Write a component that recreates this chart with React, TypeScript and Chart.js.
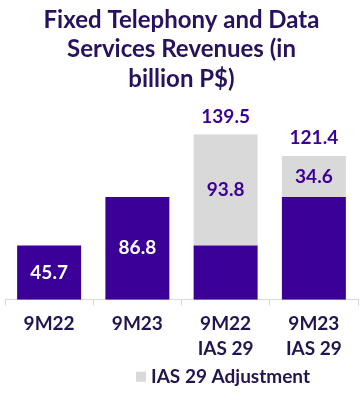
import React, { useEffect, useRef } from "react";
import { Chart, registerables } from "chart.js";

Chart.register(...registerables);

const categories: string[][] = [["9M22"], ["9M23"], ["9M22", "IAS 29"], ["9M23", "IAS 29"]];
const baseValues: number[] = [45.7, 86.8, 45.7, 86.8];
const adjustmentValues: (number | null)[] = [null, null, 93.8, 34.6];
const totalValues: (number | null)[] = [null, null, 139.5, 121.4];
const titleLines: string[] = ["Fixed Telephony and Data", "Services Revenues (in", "billion P$)"];
const legendLabel = "IAS 29 Adjustment";

const PURPLE = "#3B0097";
const GRAY = "#D9D9D9";
const TITLE_COLOR = "#28125F";
const TEXT_COLOR = "#221552";
const FONT = "Lato, 'Open Sans', sans-serif";

const labelsPlugin = {
  id: "valueLabels",
  afterDatasetsDraw(chart: any) {
    const ctx = chart.ctx;
    ctx.save();
    ctx.font = `bold 19px ${FONT}`;
    ctx.textAlign = "center";
    ctx.textBaseline = "middle";
    const baseMeta = chart.getDatasetMeta(0);
    const adjMeta = chart.getDatasetMeta(1);
    baseMeta.data.forEach((bar: any, i: number) => {
      if (adjustmentValues[i] == null) {
        ctx.fillStyle = "#FFFFFF";
        ctx.fillText(baseValues[i].toFixed(1), bar.x, (bar.y + bar.base) / 2);
      }
    });
    adjMeta.data.forEach((bar: any, i: number) => {
      const v = adjustmentValues[i];
      if (v != null) {
        ctx.fillStyle = PURPLE;
        ctx.fillText(v.toFixed(1), bar.x, (bar.y + bar.base) / 2);
        const t = totalValues[i];
        if (t != null) {
          ctx.fillText(t.toFixed(1), bar.x, bar.y - 18);
        }
      }
    });
    // legend
    const ca = chart.chartArea;
    const ly = ca.bottom + 77;
    ctx.font = `bold 19px ${FONT}`;
    ctx.textAlign = "left";
    const textW = ctx.measureText(legendLabel).width;
    const totalW = 10 + 5 + textW;
    const lx = 223 - totalW / 2;
    ctx.fillStyle = GRAY;
    ctx.fillRect(lx, ly - 5, 10, 10);
    ctx.fillStyle = TEXT_COLOR;
    ctx.fillText(legendLabel, lx + 15, ly);
    ctx.restore();
  },
};

export default function App() {
  const canvasRef = useRef<HTMLCanvasElement | null>(null);

  useEffect(() => {
    document.body.style.margin = "0";
    const canvas = canvasRef.current;
    if (!canvas) return;
    const chart = new Chart(canvas, {
      type: "bar",
      data: {
        labels: categories,
        datasets: [
          {
            label: "Base",
            data: baseValues,
            backgroundColor: PURPLE,
            barPercentage: 0.725,
            categoryPercentage: 1,
          },
          {
            label: legendLabel,
            data: adjustmentValues,
            backgroundColor: GRAY,
            barPercentage: 0.725,
            categoryPercentage: 1,
          },
        ],
      },
      options: {
        animation: false,
        responsive: true,
        maintainAspectRatio: false,
        layout: { padding: { left: 5, right: 6, top: 0, bottom: 27 } },
        plugins: {
          legend: { display: false },
          tooltip: { enabled: false },
          title: {
            display: true,
            text: titleLines,
            color: TITLE_COLOR,
            font: { family: FONT, size: 24, weight: "bold", lineHeight: 1.24 },
            padding: { top: 5, bottom: 10 },
          },
        },
        scales: {
          x: {
            stacked: true,
            offset: true,
            grid: {
              display: true,
              offset: true,
              drawOnChartArea: false,
              drawTicks: true,
              tickLength: 6,
              color: GRAY,
            },
            border: { display: true, color: GRAY, width: 1 },
            ticks: {
              color: TEXT_COLOR,
              font: { family: FONT, size: 19, weight: "bold", lineHeight: 1.35 },
              padding: 5,
              maxRotation: 0,
            },
          },
          y: {
            stacked: true,
            display: false,
            min: 0,
            max: 165,
          },
        },
      },
      plugins: [labelsPlugin],
    });
    return () => chart.destroy();
  }, []);

  return (
    <div style={{ width: 364, height: 394, position: "relative" }}>
      <canvas ref={canvasRef} />
    </div>
  );
}
